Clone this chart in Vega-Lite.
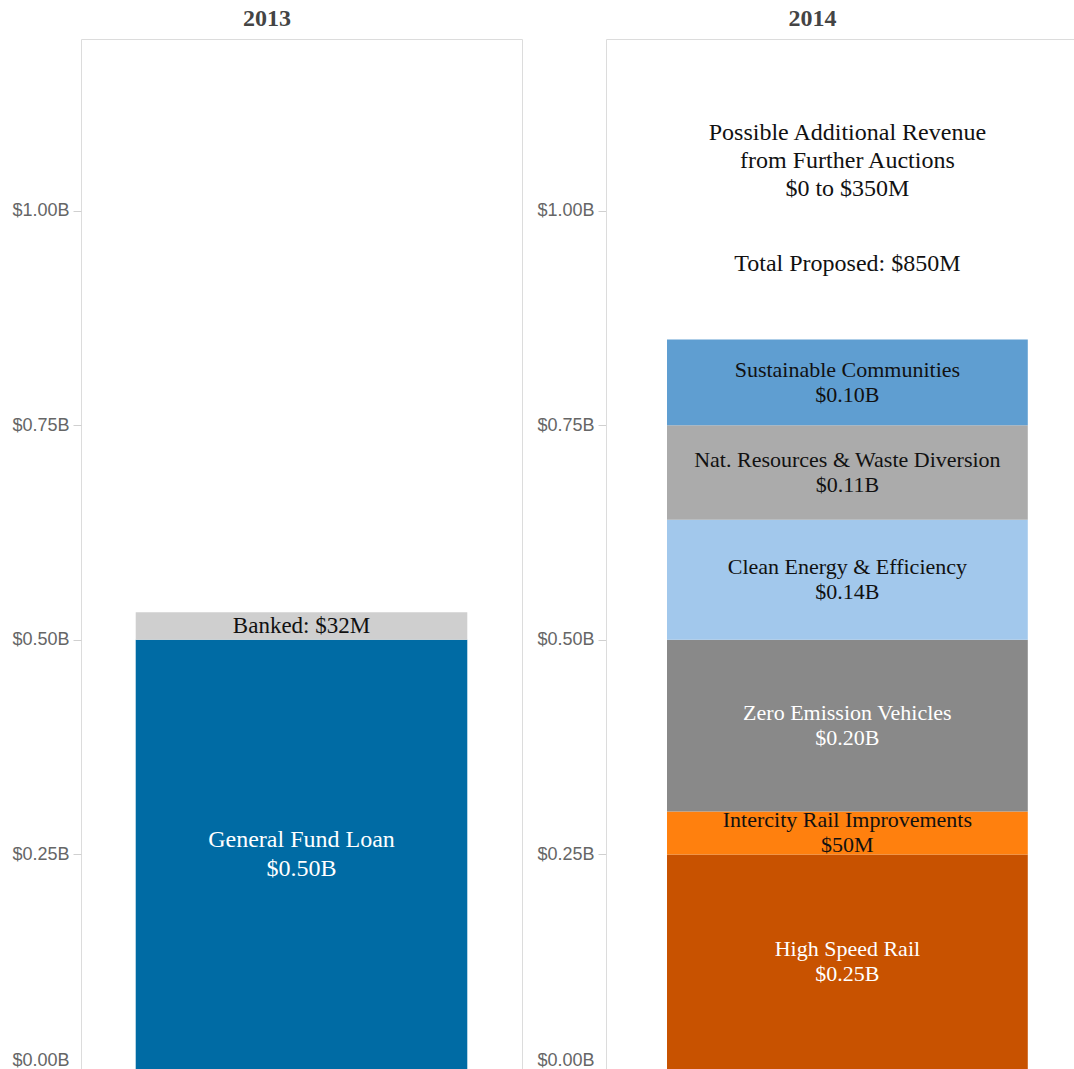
{
  "$schema": "https://vega.github.io/schema/vega-lite/v6.json",
  "padding": {"left": 11, "top": 6, "right": 0, "bottom": 0},
  "background": "white",
  "config": {
    "view": {"stroke": "#dcdcdc", "strokeWidth": 1},
    "axis": {"labelFont": "Liberation Sans", "labelFontSize": 18, "labelColor": "#666666", "tickColor": "#d0d0d0", "tickSize": 8, "labelPadding": 4, "domainColor": "#dcdcdc", "grid": false},
    "title": {"font": "Liberation Serif", "fontSize": 24, "fontWeight": "bold", "color": "#444444", "offset": 8, "frame": "bounds", "anchor": "middle"}
  },
  "datasets": {
    "budget": [
      {"year": "2013", "category": "General Fund Loan", "value": 0.5, "seq": 1, "label": ["General Fund Loan", "$0.50B"]},
      {"year": "2013", "category": "Banked", "value": 0.032, "seq": 2, "label": ["Banked: $32M"]},
      {"year": "2014", "category": "High Speed Rail", "value": 0.25, "seq": 1, "label": ["High Speed Rail", "$0.25B"]},
      {"year": "2014", "category": "Intercity Rail Improvements", "value": 0.05, "seq": 2, "label": ["Intercity Rail Improvements", "$50M"]},
      {"year": "2014", "category": "Zero Emission Vehicles", "value": 0.2, "seq": 3, "label": ["Zero Emission Vehicles", "$0.20B"]},
      {"year": "2014", "category": "Clean Energy & Efficiency", "value": 0.14, "seq": 4, "label": ["Clean Energy & Efficiency", "$0.14B"]},
      {"year": "2014", "category": "Nat. Resources & Waste Diversion", "value": 0.11, "seq": 5, "label": ["Nat. Resources & Waste Diversion", "$0.11B"]},
      {"year": "2014", "category": "Sustainable Communities", "value": 0.1, "seq": 6, "label": ["Sustainable Communities", "$0.10B"]}
    ]
  },
  "spacing": 13,
  "hconcat": [
    {
      "title": "2013",
      "width": 441,
      "height": 1030,
      "layer": [
        {
          "data": {"name": "budget"},
          "transform": [{"filter": "datum.year === '2013'"}],
          "mark": {"type": "bar"},
          "encoding": {
            "x": {"field": "year", "type": "nominal", "axis": null, "scale": {"paddingInner": 0, "paddingOuter": 0.165}},
            "y": {"field": "value", "type": "quantitative", "stack": "zero", "title": null, "scale": {"domain": [0, 1.2], "nice": false}, "axis": {"values": [0, 0.25, 0.5, 0.75, 1], "labelExpr": "'$' + format(datum.value, '.2f') + 'B'", "labelFlush": true, "domain": false, "title": null}},
            "order": {"field": "seq", "type": "quantitative"},
            "color": {"field": "category", "type": "nominal", "legend": null, "scale": {"domain": ["General Fund Loan", "Banked", "High Speed Rail", "Intercity Rail Improvements", "Zero Emission Vehicles", "Clean Energy & Efficiency", "Nat. Resources & Waste Diversion", "Sustainable Communities"], "range": ["#006BA4", "#CFCFCF", "#C85200", "#FF800E", "#898989", "#A2C8EC", "#ABABAB", "#5F9ED1"]}}
          }
        },
        {
          "data": {"name": "budget"},
          "transform": [{"filter": "datum.year === '2013'"}],
          "mark": {"type": "text", "font": "Liberation Serif", "fontSize": 24, "lineHeight": 29, "baseline": "middle", "align": "center", "dy": -14.5, "color": "#ffffff"},
          "encoding": {
            "x": {"field": "year", "type": "nominal", "axis": null, "scale": {"paddingInner": 0, "paddingOuter": 0.165}},
            "y": {"field": "value", "type": "quantitative", "stack": "zero", "bandPosition": 0.5, "title": null, "scale": {"domain": [0, 1.2], "nice": false}, "axis": {"values": [0, 0.25, 0.5, 0.75, 1], "labelExpr": "'$' + format(datum.value, '.2f') + 'B'", "labelFlush": true, "domain": false, "title": null}},
            "order": {"field": "seq", "type": "quantitative"},
            "detail": {"field": "category", "type": "nominal"},
            "text": {"condition": {"test": "datum.category === 'Banked'", "value": ""}, "field": "label"}
          }
        },
        {
          "data": {"name": "budget"},
          "transform": [{"filter": "datum.year === '2013'"}],
          "mark": {"type": "text", "font": "Liberation Serif", "fontSize": 23, "baseline": "middle", "align": "center", "color": "#111111"},
          "encoding": {
            "x": {"field": "year", "type": "nominal", "axis": null, "scale": {"paddingInner": 0, "paddingOuter": 0.165}},
            "y": {"field": "value", "type": "quantitative", "stack": "zero", "bandPosition": 0.5, "title": null, "scale": {"domain": [0, 1.2], "nice": false}, "axis": {"values": [0, 0.25, 0.5, 0.75, 1], "labelExpr": "'$' + format(datum.value, '.2f') + 'B'", "labelFlush": true, "domain": false, "title": null}},
            "order": {"field": "seq", "type": "quantitative"},
            "detail": {"field": "category", "type": "nominal"},
            "text": {"condition": {"test": "datum.category !== 'Banked'", "value": ""}, "field": "label"}
          }
        }
      ]
    },
    {
      "title": {"text": "2014", "dx": 7},
      "width": 468,
      "height": 1030,
      "view": {"stroke": null},
      "layer": [
        {
          "data": {"name": "budget"},
          "transform": [{"filter": "datum.year === '2014'"}],
          "mark": {"type": "bar"},
          "encoding": {
            "x": {"field": "year", "type": "nominal", "scale": {"paddingInner": 0, "paddingOuter": 0.1486, "align": 0.569}, "axis": {"orient": "top", "labels": false, "ticks": false, "title": null, "domain": true, "domainColor": "#dcdcdc"}},
            "y": {"field": "value", "type": "quantitative", "stack": "zero", "title": null, "scale": {"domain": [0, 1.2], "nice": false}, "axis": {"values": [0, 0.25, 0.5, 0.75, 1], "labelExpr": "'$' + format(datum.value, '.2f') + 'B'", "labelFlush": true, "domain": true, "title": null}},
            "order": {"field": "seq", "type": "quantitative"},
            "color": {"field": "category", "type": "nominal", "legend": null}
          }
        },
        {
          "data": {"name": "budget"},
          "transform": [{"filter": "datum.year === '2014'"}],
          "mark": {"type": "text", "font": "Liberation Serif", "fontSize": 22, "lineHeight": 25, "baseline": "middle", "align": "center", "dy": -12.5},
          "encoding": {
            "x": {"field": "year", "type": "nominal", "scale": {"paddingInner": 0, "paddingOuter": 0.1486, "align": 0.569}, "axis": {"orient": "top", "labels": false, "ticks": false, "title": null, "domain": true, "domainColor": "#dcdcdc"}},
            "y": {"field": "value", "type": "quantitative", "stack": "zero", "bandPosition": 0.5, "title": null, "scale": {"domain": [0, 1.2], "nice": false}, "axis": {"values": [0, 0.25, 0.5, 0.75, 1], "labelExpr": "'$' + format(datum.value, '.2f') + 'B'", "labelFlush": true, "domain": true, "title": null}},
            "order": {"field": "seq", "type": "quantitative"},
            "detail": {"field": "category", "type": "nominal"},
            "text": {"field": "label"},
            "color": {"condition": {"test": "indexof(['Zero Emission Vehicles', 'High Speed Rail'], datum.category) >= 0", "value": "#ffffff"}, "value": "#111111"}
          }
        },
        {
          "data": {"values": [{"year": "2014", "note": ["Possible Additional Revenue", "from Further Auctions", "$0 to $350M"]}]},
          "mark": {"type": "text", "font": "Liberation Serif", "fontSize": 24, "lineHeight": 28, "baseline": "middle", "align": "center", "color": "#111111", "dy": -28},
          "encoding": {
            "x": {"field": "year", "type": "nominal"},
            "y": {"datum": 1.058, "type": "quantitative"},
            "text": {"field": "note"}
          }
        },
        {
          "data": {"values": [{"year": "2014", "note": "Total Proposed: $850M"}]},
          "mark": {"type": "text", "font": "Liberation Serif", "fontSize": 24, "baseline": "middle", "align": "center", "color": "#111111"},
          "encoding": {
            "x": {"field": "year", "type": "nominal"},
            "y": {"datum": 0.938, "type": "quantitative"},
            "text": {"field": "note"}
          }
        }
      ]
    }
  ]
}
